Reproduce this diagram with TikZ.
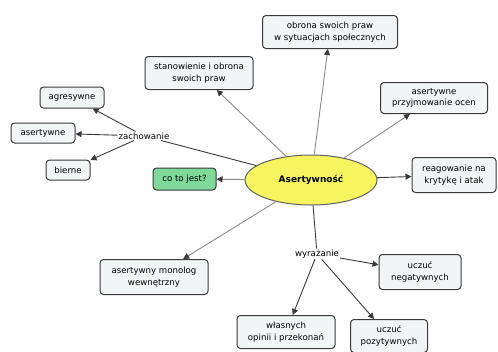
\documentclass[tikz,border=0pt]{standalone}
\usepackage{fontspec}
\setmainfont{DejaVu Sans}
\usetikzlibrary{arrows.meta,shapes.geometric}
\definecolor{boxfill}{HTML}{F2F5F5}
\definecolor{boxline}{HTML}{3A3A3A}
\definecolor{sunfill}{HTML}{F6F560}
\definecolor{greenfill}{HTML}{7ED99A}
\definecolor{grayline}{HTML}{8A8A8A}
\tikzset{
  box/.style={draw=boxline, line width=1pt, rounded corners=3.5pt, fill=boxfill, align=center,
    font=\fontsize{8.6}{11.5}\selectfont, inner sep=1pt},
  plain/.style={font=\fontsize{8.6}{11}\selectfont, inner sep=1pt, fill=white},
  garrow/.style={draw=grayline, line width=0.9pt, -{Triangle[length=6pt,width=6pt,color=boxline]}},
  darrow/.style={draw=boxline, line width=0.9pt, -{Triangle[length=6pt,width=6pt,color=boxline]}},
  dline/.style={draw=boxline, line width=0.9pt},
}
\begin{document}
\begin{tikzpicture}[x=1pt,y=-1pt]
\useasboundingbox (0,0) rectangle (498,351);
\node[ellipse, draw=boxline!80, line width=1pt, fill=sunfill, minimum width=132pt, minimum height=50pt,
  font=\bfseries\fontsize{9}{11}\selectfont] (c) at (311,180) {Asertywność};
\node[box, minimum width=108pt, minimum height=33pt] (stan) at (199,73) {stanowienie i obrona\\swoich praw};
\node[box, minimum width=135pt, minimum height=33pt] (obr) at (330,32) {obrona swoich praw\\w sytuacjach społecznych};
\node[box, minimum width=107pt, minimum height=31pt] (ocen) at (434,98) {asertywne\\przyjmowanie ocen};
\node[box, minimum width=84pt, minimum height=35pt] (reag) at (454,175) {reagowanie na\\krytykę i atak};
\node[box, fill=greenfill, minimum width=63pt, minimum height=22pt] (co) at (184.5,179) {co to jest?};
\node[plain] (zach) at (144,136) {zachowanie};
\node[box, minimum width=64pt, minimum height=21pt] (agr) at (72,97.5) {agresywne};
\node[box, minimum width=64pt, minimum height=20pt] (ase) at (43,133) {asertywne};
\node[box, minimum width=44pt, minimum height=20pt] (bie) at (68,170) {bierne};
\node[box, minimum width=108pt, minimum height=35pt] (mon) at (154,277) {asertywny monolog\\wewnętrzny};
\node[plain] (wyr) at (317,254) {wyrażanie};
\node[box, minimum width=82pt, minimum height=35pt] (neg) at (420,272) {uczuć\\negatywnych};
\node[box, minimum width=98pt, minimum height=33pt] (wla) at (286,332) {własnych\\opinii i przekonań};
\node[box, minimum width=77pt, minimum height=33pt] (poz) at (389,336) {uczuć\\pozytywnych};
% connectors
\draw[garrow] (c) -- (stan);
\draw[garrow] (c) -- (obr);
\draw[garrow] (c) -- (ocen);
\draw[darrow] (c) -- (reag);
\draw[garrow] (c) -- (co);
\draw[garrow] (c) -- (mon);
\draw[dline] (c) -- (zach);
\draw[dline] (c) -- (wyr);
\draw[darrow] (zach) -- (agr);
\draw[darrow] (zach) -- (ase);
\draw[darrow] (zach) -- (bie);
\draw[darrow] (wyr) -- (neg);
\draw[darrow] (wyr) -- (wla);
\draw[darrow] (wyr) -- (poz);
\end{tikzpicture}
\end{document}
